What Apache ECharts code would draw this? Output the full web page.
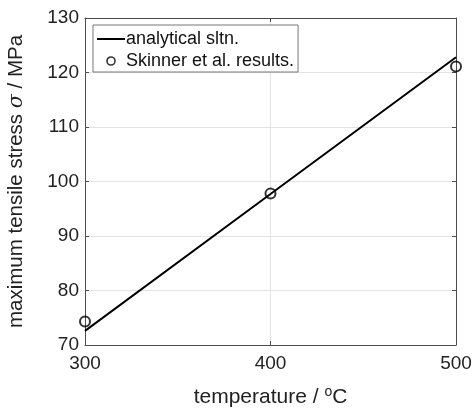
<!DOCTYPE html>
<html><head><meta charset="utf-8">
<script src="https://cdn.jsdelivr.net/npm/echarts@6/dist/echarts.min.js"></script>
<style>html,body{margin:0;padding:0;background:#fff}#c{width:475px;height:409px}</style>
</head><body><div id="c"></div>
<script>
// data
const xTicks = [300, 400, 500];
const yTicks = [70, 80, 90, 100, 110, 120, 130];
const analyticalX = [300, 400, 500];
const analyticalY = [72.6, 97.7, 122.8];
const skinnerX = [300, 400, 500];
const skinnerY = [74.3, 97.8, 121.1];
const seriesNames = ['analytical sltn.', 'Skinner et al. results.'];

const FONT = '"Liberation Sans", Arial, Helvetica, sans-serif';
const chart = echarts.init(document.getElementById('c'), null, {renderer: 'canvas'});
const axisCommon = {
  axisLine: {show: true, onZero: false, lineStyle: {color: '#4d4d4d', width: 1}},
  axisTick: {show: true, inside: true, length: 4, lineStyle: {color: '#4d4d4d'}},
  splitLine: {show: false},
  axisLabel: {show: false}
};
const option = {
  animation: false,
  backgroundColor: '#fff',
  textStyle: {fontFamily: FONT},
  grid: {left: 85, right: 19, top: 18, bottom: 64, containLabel: false, outerBoundsMode: 'none'},
  legend: {
    left: 93, top: 25,
    orient: 'vertical',
    data: [
      {name: seriesNames[0], icon: 'path://M0,0H28V2H0Z'},
      {name: seriesNames[1], itemStyle: {borderWidth: 1.6}}
    ],
    symbolKeepAspect: true,
    backgroundColor: '#fff',
    borderColor: '#777', borderWidth: 1,
    padding: [5, 4, 2, 4],
    itemGap: 4, itemWidth: 28, itemHeight: 8,
    textStyle: {fontFamily: FONT, fontSize: 18, color: '#111', padding: [0,0,0,-4]}
  },
  xAxis: [
    Object.assign({}, axisCommon, {
      type: 'value', position: 'bottom', min: xTicks[0], max: xTicks[xTicks.length-1], interval: 100,
      axisLabel: {show: true, fontSize: 19, color: '#222', margin: 9, fontFamily: FONT},
      splitLine: {show: true, lineStyle: {color: '#e3e3e3', width: 1}},
      name: '{t|temperature / }{s|o}{t|C}', nameLocation: 'middle', nameGap: 40,
      nameTextStyle: {rich: {
        t: {fontSize: 21, color: '#222', fontFamily: FONT, lineHeight: 24},
        s: {fontSize: 14, color: '#222', fontFamily: FONT, lineHeight: 24, verticalAlign: 'top', padding: [0, 0, 4, 0]}
      }}
    }),
    Object.assign({}, axisCommon, {
      type: 'value', position: 'top', min: xTicks[0], max: xTicks[xTicks.length-1], interval: 100
    })
  ],
  yAxis: [
    Object.assign({}, axisCommon, {
      type: 'value', position: 'left', min: yTicks[0], max: yTicks[yTicks.length-1], interval: 10,
      axisLabel: {show: true, fontSize: 19, color: '#222', margin: 6, fontFamily: FONT},
      splitLine: {show: true, lineStyle: {color: '#e3e3e3', width: 1}},
      name: '{t|maximum tensile stress }{i|σ}{t| / MPa}', nameLocation: 'middle', nameGap: 58, nameRotate: 90,
      nameTextStyle: {rich: {
        t: {fontSize: 20.5, color: '#222', fontFamily: FONT},
        i: {fontSize: 20.5, color: '#222', fontFamily: '"DejaVu Serif", serif', fontStyle: 'italic'}
      }}
    }),
    Object.assign({}, axisCommon, {
      type: 'value', position: 'right', min: yTicks[0], max: yTicks[yTicks.length-1], interval: 10
    })
  ],
  series: [
    {
      name: seriesNames[0], type: 'line',
      data: analyticalX.map((x, i) => [x, analyticalY[i]]),
      symbol: 'none', lineStyle: {color: '#000', width: 2}, itemStyle: {color: '#000'},
      z: 3
    },
    {
      name: seriesNames[1], type: 'scatter',
      data: skinnerX.map((x, i) => [x, skinnerY[i]]),
      symbol: 'circle', symbolSize: 10,
      itemStyle: {color: 'rgba(0,0,0,0)', borderColor: '#000', borderWidth: 2},
      z: 4
    }
  ]
};
chart.setOption(option);
</script></body></html>
